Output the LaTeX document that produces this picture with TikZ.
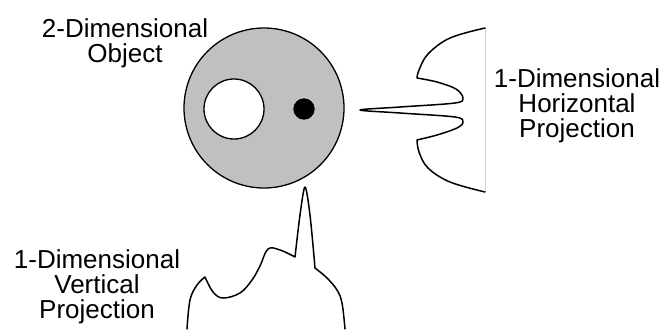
\documentclass[tikz,border=0pt]{standalone}
\usepackage{fontspec}
\setmainfont{Liberation Sans}
\begin{document}
\begin{tikzpicture}[x=1pt,y=-1pt,
  lbl/.style={align=center, anchor=north, inner sep=0pt, font=\fontsize{26}{25}\selectfont},
  proj/.style={line width=1.5pt, line join=round, line cap=round},
  disc/.style={circle, draw, line width=1.3pt, inner sep=0pt}]
\useasboundingbox (0,0) rectangle (663,329);
% object
\node[disc, fill={rgb,255:red,192;green,192;blue,192}, minimum size=160pt] (obj) at (264,108) {};
\node[disc, fill=white, minimum size=60pt] (hole) at (234,109) {};
\node[disc, fill=black, minimum size=20pt] (dot) at (304,109) {};
% horizontal projection
\coordinate (htop) at (485,27);
\coordinate (hbot) at (485,192);
\draw[gray!35, line width=0.6pt] (htop) -- (hbot);
\draw[proj] plot[smooth, tension=0.6] coordinates {(485,28) (450,38) (428,54) (419,70) (417,78)}
  -- plot[smooth, tension=0.55] coordinates {(417,78) (437,82) (456,89) (463,98) (455,103) (400,107) (360,110) (400,113) (455,117) (463,122) (457,128) (437,135) (417,140)}
  -- plot[smooth, tension=0.6] coordinates {(417,140) (419,152) (428,168) (450,182) (485,192)};
% vertical projection
\draw[proj] plot[smooth, tension=0.6] coordinates {(187,329) (190,300) (197,285) (205,277)}
  -- plot[smooth, tension=0.6] coordinates {(205,277) (213,292) (223,298) (240,293) (252,280) (260,266) (268,249) (280,250) (295,257)}
  -- plot[smooth, tension=0.5] coordinates {(295,257) (300,215) (305,187) (310,215) (315,268)}
  -- plot[smooth, tension=0.6] coordinates {(315,268) (327,278) (337,290) (342,303) (345,329)};
% labels
\node[lbl] (l2d) at (125,18) {2-Dimensional\\Object};
\node[lbl] (lh) at (577,68) {1-Dimensional\\Horizontal\\Projection};
\node[lbl] (lv) at (97,249) {1-Dimensional\\Vertical\\Projection};
\end{tikzpicture}
\end{document}
